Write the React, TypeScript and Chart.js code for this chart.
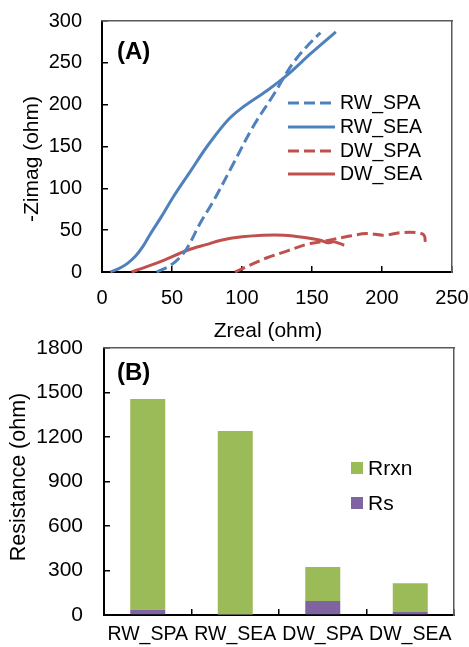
import React, { useEffect, useRef } from 'react';
import { Chart, registerables } from 'chart.js';

Chart.register(...registerables);

const FONT = "'Liberation Sans', Arial, Helvetica, sans-serif";

// ---------- Panel A : Nyquist curves ----------
const seriesNamesA = ['RW_SPA', 'RW_SEA', 'DW_SPA', 'DW_SEA'];
const rwSpaZreal = [39, 49, 57, 62, 70, 80, 94, 108, 123, 130, 137, 146, 156];
const rwSpaZimag = [0, 8, 20, 32, 58, 86, 130, 174, 213, 233, 251, 269, 286];
const rwSeaZreal = [6, 12, 18, 24, 29, 34, 42, 51, 63, 75, 89, 99, 118, 132, 149, 167];
const rwSeaZimag = [0, 4, 10, 19, 30, 44, 65, 90, 120, 150, 180, 195, 217, 235, 261, 287];
const dwSpaZreal = [95, 108, 118, 132, 146, 156, 165, 177, 189, 201, 213, 225, 230, 231];
const dwSpaZimag = [0, 10, 17, 25, 33, 36, 39, 43, 46, 44, 47, 47, 44, 34];
const dwSeaZreal = [21, 33, 44, 61, 75, 85, 100, 115, 130, 146, 156, 161, 166, 173];
const dwSeaZimag = [0, 7, 14, 26, 33, 38, 42, 44, 44, 41, 38, 35, 36, 32];
const xRangeA = [0, 250];
const xStepA = 50;
const yRangeA = [0, 300];
const yStepA = 50;

// ---------- Panel B : resistances ----------
const categoriesB = ['RW_SPA', 'RW_SEA', 'DW_SPA', 'DW_SEA'];
const rsValues = [35, 3, 94, 20];
const rrxnValues = [1421, 1237, 230, 194];
const yRangeB = [0, 1800];
const yStepB = 300;

const BLUE = '#4F81BD';
const RED = '#C0504D';
const GREEN = '#9BBB59';
const PURPLE = '#8064A2';

const zip = (xs: number[], ys: number[]) => xs.map((x, i) => ({ x, y: ys[i] }));

const noPad = (s: any) => {
  s.paddingTop = 0;
  s.paddingBottom = 0;
  s.paddingLeft = 0;
  s.paddingRight = 0;
};

// inward tick marks drawn by Chart.js itself (negative tick length)
const inwardGrid = {
  display: true,
  drawOnChartArea: false,
  drawTicks: true,
  tickLength: -6,
  color: '#000',
  lineWidth: 1.5,
};
const axisBorder = { display: true, color: '#000', width: 2 };
const farBorder = { display: true, color: '#595959', width: 1.5 };

// tick-less scale used only to draw the top / right frame line
const frameScale = (position: string) => ({
  type: 'linear',
  position,
  min: 0,
  max: 1,
  ticks: { display: false },
  grid: { display: false, drawTicks: false },
  border: farBorder,
  afterFit: (s: any) => {
    if (position === 'top') s.height = 0;
    else s.width = 0;
    noPad(s);
  },
});

function line(ctx: CanvasRenderingContext2D, x1: number, y1: number, x2: number, y2: number) {
  ctx.beginPath();
  ctx.moveTo(x1, y1);
  ctx.lineTo(x2, y2);
  ctx.stroke();
}

const pluginA = {
  id: 'decorA',
  afterDraw(chart: any) {
    const ctx: CanvasRenderingContext2D = chart.ctx;
    ctx.save();
    const colors = [BLUE, BLUE, RED, RED];
    const dashed = [true, false, true, false];
    const ly = [103, 127, 151, 174];
    ctx.font = `19.5px ${FONT}`;
    ctx.textBaseline = 'middle';
    ctx.textAlign = 'left';
    seriesNamesA.forEach((name, i) => {
      ctx.strokeStyle = colors[i];
      ctx.lineWidth = 3;
      ctx.setLineDash(dashed[i] ? [11, 5] : []);
      line(ctx, 288, ly[i], 335, ly[i]);
      ctx.setLineDash([]);
      ctx.fillStyle = '#000';
      ctx.fillText(name, 340, ly[i] + 1);
    });

    ctx.font = `bold 24px ${FONT}`;
    ctx.fillText('(A)', 117, 52);

    ctx.font = `21px ${FONT}`;
    ctx.textAlign = 'center';
    ctx.fillText('Zreal (ohm)', 268, 331);
    ctx.translate(32, 159);
    ctx.rotate(-Math.PI / 2);
    ctx.fillText('-Zimag (ohm)', 0, 0);
    ctx.restore();
  },
};

const pluginB = {
  id: 'decorB',
  afterDraw(chart: any) {
    const ctx: CanvasRenderingContext2D = chart.ctx;
    ctx.save();
    const items = [
      { name: 'Rrxn', color: GREEN, y: 132 },
      { name: 'Rs', color: PURPLE, y: 167 },
    ];
    ctx.font = `21px ${FONT}`;
    ctx.textBaseline = 'middle';
    ctx.textAlign = 'left';
    items.forEach((it) => {
      ctx.fillStyle = it.color;
      ctx.fillRect(351, it.y - 6, 12, 12);
      ctx.fillStyle = '#000';
      ctx.fillText(it.name, 368, it.y + 1);
    });

    ctx.font = `bold 24px ${FONT}`;
    ctx.fillText('(B)', 117, 37);

    ctx.font = `21.5px ${FONT}`;
    ctx.textAlign = 'center';
    ctx.translate(19, 141);
    ctx.rotate(-Math.PI / 2);
    ctx.fillText('Resistance (ohm)', 0, 0);
    ctx.restore();
  },
};

export default function App() {
  const refA = useRef<HTMLCanvasElement>(null);
  const refB = useRef<HTMLCanvasElement>(null);

  useEffect(() => {
    const chartA = new Chart(refA.current as HTMLCanvasElement, {
      type: 'scatter',
      data: {
        datasets: [
          { label: seriesNamesA[0], data: zip(rwSpaZreal, rwSpaZimag), borderColor: BLUE, borderDash: [11, 5] },
          { label: seriesNamesA[1], data: zip(rwSeaZreal, rwSeaZimag), borderColor: BLUE },
          { label: seriesNamesA[2], data: zip(dwSpaZreal, dwSpaZimag), borderColor: RED, borderDash: [11, 5] },
          { label: seriesNamesA[3], data: zip(dwSeaZreal, dwSeaZimag), borderColor: RED },
        ].map((d) => ({
          ...d,
          xAxisID: 'x',
          yAxisID: 'y',
          showLine: true,
          borderWidth: 3,
          tension: 0.35,
          pointRadius: 0,
          pointHoverRadius: 0,
          fill: false,
          clip: 4,
        })),
      },
      options: {
        responsive: false,
        animation: false,
        devicePixelRatio: 1,
        events: [],
        layout: { padding: { top: 21, right: 17, left: 0, bottom: 0 } },
        plugins: { legend: { display: false }, tooltip: { enabled: false } },
        scales: {
          x: {
            type: 'linear',
            position: 'bottom',
            min: xRangeA[0],
            max: xRangeA[1],
            ticks: { stepSize: xStepA, padding: 20, color: '#000', font: { family: FONT, size: 20 }, maxRotation: 0 },
            grid: inwardGrid,
            border: axisBorder,
            afterFit: (s: any) => { s.height = 73; noPad(s); },
          },
          y: {
            type: 'linear',
            position: 'left',
            min: yRangeA[0],
            max: yRangeA[1],
            ticks: { stepSize: yStepA, padding: 26, color: '#000', font: { family: FONT, size: 20 } },
            grid: inwardGrid,
            border: axisBorder,
            afterFit: (s: any) => { s.width = 102; noPad(s); },
          },
          x2: frameScale('top'),
          y2: frameScale('right'),
        },
      } as any,
      plugins: [pluginA],
    });

    const chartB = new Chart(refB.current as HTMLCanvasElement, {
      type: 'bar',
      data: {
        labels: categoriesB,
        datasets: [
          { label: 'Rs', data: rsValues, backgroundColor: PURPLE, xAxisID: 'x', yAxisID: 'y' },
          { label: 'Rrxn', data: rrxnValues, backgroundColor: GREEN, xAxisID: 'x', yAxisID: 'y' },
        ],
      },
      options: {
        responsive: false,
        animation: false,
        devicePixelRatio: 1,
        events: [],
        layout: { padding: { top: 12, right: 15, left: 0, bottom: 0 } },
        plugins: { legend: { display: false }, tooltip: { enabled: false } },
        datasets: { bar: { barPercentage: 0.4, categoryPercentage: 1, borderWidth: 0 } },
        scales: {
          x: {
            type: 'category',
            position: 'bottom',
            stacked: true,
            offset: true,
            ticks: { padding: 14, color: '#000', font: { family: FONT, size: 19.5 }, maxRotation: 0, autoSkip: false },
            grid: { ...inwardGrid, offset: true },
            border: axisBorder,
            afterFit: (s: any) => { s.height = 32; noPad(s); },
          },
          y: {
            type: 'linear',
            position: 'left',
            stacked: true,
            min: yRangeB[0],
            max: yRangeB[1],
            ticks: {
              stepSize: yStepB,
              padding: 27,
              color: '#000',
              font: { family: FONT, size: 21 },
              callback: (v: any) => String(v),
            },
            grid: inwardGrid,
            border: axisBorder,
            afterFit: (s: any) => { s.width = 104; noPad(s); },
          },
          x2: frameScale('top'),
          y2: frameScale('right'),
        },
      } as any,
      plugins: [pluginB],
    });

    return () => {
      chartA.destroy();
      chartB.destroy();
    };
  }, []);

  return (
    <div style={{ position: 'absolute', left: 0, top: 0, width: 469, height: 647, background: '#fff' }}>
      <canvas ref={refA} width={469} height={345} style={{ position: 'absolute', left: 0, top: 0 }} />
      <canvas ref={refB} width={469} height={311} style={{ position: 'absolute', left: 0, top: 336 }} />
    </div>
  );
}
